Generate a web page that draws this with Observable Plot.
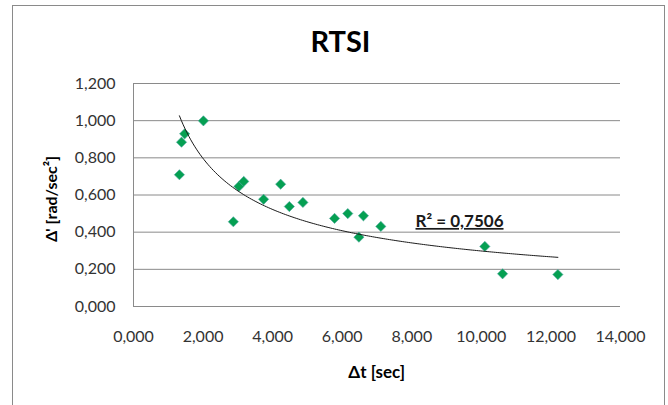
<!DOCTYPE html>
<html><head><meta charset="utf-8">
<script src="https://cdn.jsdelivr.net/npm/d3@7"></script>
<script src="https://cdn.jsdelivr.net/npm/@observablehq/plot@0.6"></script>
<style>
html,body{margin:0;padding:0;background:#fff;overflow:hidden;}
#wrap{position:relative;width:668px;height:405px;font-family:Lato,"Open Sans",sans-serif;}
#frame{position:absolute;left:12px;top:5px;width:653px;height:430px;border:1.5px solid #8a8a8a;box-sizing:border-box;pointer-events:none;}
#chart{position:absolute;left:0;top:0;}
</style>
</head><body>
<div id="wrap"><div id="chart"></div><div id="frame"></div></div>
<script>
// ---- data ----
const title = "RTSI";
const xTitle = "Δt [sec]";
const yTitle = "Δ' [rad/sec²]";
const r2Label = "R² = 0,7506";
const dt = [1.32, 1.38, 1.47, 2.01, 2.87, 3.03, 3.17, 3.74, 4.23, 4.48, 4.87, 5.78, 6.16, 6.61, 6.48, 7.11, 10.10, 10.61, 12.20];
const accel = [0.709, 0.884, 0.929, 0.999, 0.456, 0.646, 0.673, 0.577, 0.658, 0.538, 0.560, 0.474, 0.500, 0.488, 0.373, 0.431, 0.323, 0.176, 0.172];
const xTicks = [0, 2, 4, 6, 8, 10, 12, 14];
const yTicks = [0, 0.2, 0.4, 0.6, 0.8, 1.0, 1.2];

const points = dt.map((d, i) => ({x: d, y: accel[i]}));

// power trendline y = a * x^b (least squares in log-log space, as Excel does)
const lx = dt.map(Math.log), ly = accel.map(Math.log);
const mx = d3.mean(lx), my = d3.mean(ly);
const b = d3.sum(lx, (v, i) => (v - mx) * (ly[i] - my)) / d3.sum(lx, v => (v - mx) ** 2);
const a = Math.exp(my - b * mx);
const [xmin, xmax] = d3.extent(dt);
const trend = d3.range(0, 201).map(i => {
  const x = xmin + (xmax - xmin) * i / 200;
  return {x, y: a * Math.pow(x, b)};
});

const fmt = v => d3.format(".3f")(v).replace(".", ",");
const grid = "#8a8a8a";

const plot = Plot.plot({
  width: 668,
  height: 405,
  marginLeft: 133,
  marginRight: 48,
  marginTop: 83,
  marginBottom: 99,
  style: {fontFamily: "Lato, 'Open Sans', sans-serif", fontSize: "16px", color: "#333", background: "transparent"},
  x: {domain: [0, 14]},
  y: {domain: [0, 1.2]},
  marks: [
    Plot.gridY(yTicks, {stroke: grid, strokeOpacity: 1, strokeWidth: 1}),
    Plot.ruleX([0], {y1: 0, y2: 1.2, stroke: grid, strokeWidth: 1}),
    Plot.axisX(xTicks, {tickSize: 0, tickPadding: 24, tickFormat: fmt, label: null, fill: "#333"}),
    Plot.axisY(yTicks, {tickSize: 0, tickPadding: 18, tickFormat: fmt, label: null, fill: "#333"}),
    Plot.dot(points, {x: "x", y: "y", symbol: "diamond2", r: 4.6, fill: "#05a052", stroke: "#4ea6a0", strokeWidth: 0.6}),
    Plot.line(trend, {x: "x", y: "y", stroke: "#1a1a1a", strokeWidth: 1, curve: "linear"}),
    Plot.text([r2Label], {x: 8.107, y: 0.428, text: d => d, textAnchor: "start", lineAnchor: "bottom", fontWeight: "bold", fontSize: 17, fill: "#1a1a1a", className: "r2"})
  ]
});

document.getElementById("chart").appendChild(plot);
const svg = d3.select(plot);
svg.selectAll("text").filter(function() { return this.textContent === r2Label; })
  .attr("text-decoration", "underline").style("text-decoration", "underline");
svg.append("text").attr("x", 340.5).attr("y", 52.3).attr("text-anchor", "middle")
  .attr("font-weight", "bold").attr("font-size", 29).attr("fill", "#000").text(title);
svg.append("text").attr("x", 376.7).attr("y", 378.3).attr("text-anchor", "middle")
  .attr("font-weight", "bold").attr("font-size", 17).attr("fill", "#000").text(xTitle);
svg.append("text").attr("transform", "translate(56.5,199) rotate(-90)").attr("text-anchor", "middle")
  .attr("font-weight", "bold").attr("font-size", 16).attr("fill", "#000").text(yTitle);
</script>
</body></html>
